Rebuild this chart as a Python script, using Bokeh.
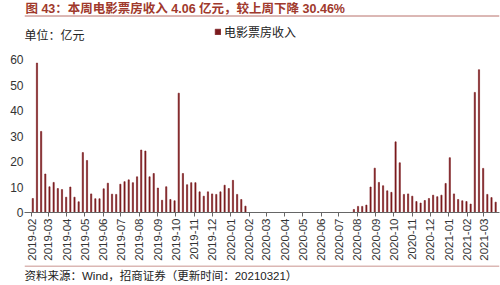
import math
import numpy as np
import pandas as pd
from bokeh.plotting import figure
from bokeh.layouts import column
from bokeh.models import (ColumnDataSource, FixedTicker, DatetimeTickFormatter, Label,
                          Span, Legend, LegendItem, Range1d)
from bokeh.embed import file_html
from bokeh.resources import INLINE

# ---------------- data ----------------
title_text = "图 43：本周电影票房收入 4.06 亿元，较上周下降 30.46%"
unit_text = "单位：亿元"
series_name = "电影票房收入"
source_text = "资料来源：Wind，招商证券（更新时间：20210321）"

first_week = "2019-02-03"   # weekly observations (week ending Sunday)
nan = float("nan")
box_office = [
    5.5, 58.6, 31.8, 15.1, 10.1, 11.8, 9.4, 9.0, 6.0, 10.0,
    6.0, 4.2, 23.5, 20.4, 7.3, 5.4, 5.4, 9.3, 11.5, 7.2,
    7.1, 11.1, 12.1, 12.8, 11.7, 14.0, 24.5, 24.1, 14.0, 15.3,
    9.6, 4.8, 10.1, 5.1, 4.6, 46.8, 15.3, 10.9, 11.7, 11.7,
    8.1, 6.4, 8.1, 7.3, 7.1, 8.1, 10.7, 9.4, 12.6, 7.1,
    5.1, 2.5, 0, 0, 0, 0, 0, 0, 0, 0,
    0, 0, 0, 0, 0, 0, 0, 0, 0, 0,
    nan, nan, nan, nan, nan, nan, nan,
    1.2, 2.4, 2.4, 2.9, 10.0, 17.4, 11.8, 10.5, 8.5, 7.9,
    27.7, 19.5, 7.1, 7.3, 6.4, 4.3, 3.7, 4.7, 5.5, 6.8,
    6.2, 6.8, 11.4, 21.5, 7.3, 5.1, 4.6, 4.3, 3.3, 47.1,
    56.0, 17.3, 7.1, 5.84, 4.06,
]
month_ticks = pd.date_range("2019-02-01", "2021-03-01", freq="MS")
y_ticks = [0, 10, 20, 30, 40, 50, 60]

# ---------------- layout ----------------
W = 500
HEAD_H, MAIN_H, FOOT_H = 18, 247, 20          # stacked: 18 + 247 + 20 = 285
FL, FR = 24, 499                               # main frame left/right (canvas px)
F_TOP, F_BOT = 18, 212                         # main frame top/bottom (canvas px)
Y0_PX, Y60_PX = 212, 59                        # where 0 and 60 sit (canvas px)
DAY = 86400000.0
px_per_day = 4.17 / 7.0

weeks = pd.date_range(first_week, periods=len(box_office), freq="7D")
t0 = weeks[0].value / 1e6
x_start = t0 - (32.3 - FL) / px_per_day * DAY
x_end = x_start + (FR - FL) / px_per_day * DAY
y_top = 60 * (Y0_PX - F_TOP) / (Y0_PX - Y60_PX)

BAR = "#7A1A1D"
TXT = "#333333"
CJK = "Liberation Sans, Noto Sans CJK SC"
RULE = "#B8706A"


def blank_fig(h):
    f = figure(width=W, height=h, x_range=Range1d(0, W), y_range=Range1d(0, h),
               output_backend="svg", toolbar_location=None,
               x_axis_location=None, y_axis_location=None,
               min_border_left=0, min_border_right=0, min_border_top=0, min_border_bottom=0)
    f.outline_line_color = None
    f.xgrid.visible = False
    f.ygrid.visible = False
    return f


# ---------------- header ----------------
head = blank_fig(HEAD_H)
head.add_layout(Label(x=1, y=HEAD_H - 8.5, text=title_text, text_font=CJK,
                      text_font_size="12.5px", text_font_style="bold",
                      text_color="#A0392C", text_baseline="middle", text_align="left"))
head.add_layout(Span(location=HEAD_H - 15.5, dimension="width",
                     line_color=RULE, line_width=1))

# ---------------- main chart ----------------
src = ColumnDataSource(dict(x=weeks, top=box_office))

p = figure(width=W, height=MAIN_H, x_axis_type="datetime",
           x_range=Range1d(x_start, x_end), y_range=Range1d(0, y_top),
           output_backend="svg", toolbar_location=None,
           min_border_left=FL, min_border_right=W - FR,
           min_border_top=0, min_border_bottom=MAIN_H - (F_BOT - F_TOP))
p.outline_line_color = None
p.xgrid.visible = False
p.ygrid.visible = False

bars = p.vbar(x="x", top="top", bottom=0, width=2.0 * DAY, source=src,
              fill_color=BAR, line_color=BAR, line_width=0.6)

# y axis
p.yaxis.ticker = FixedTicker(ticks=y_ticks)
p.yaxis.axis_line_color = None
p.yaxis.major_tick_line_color = None
p.yaxis.minor_tick_line_color = None
p.yaxis.major_tick_out = 0
p.yaxis.major_label_standoff = 1
p.yaxis.major_label_text_font = "Liberation Sans"
p.yaxis.major_label_text_font_size = "12px"
p.yaxis.major_label_text_color = TXT

# x axis
fmt = "%Y-%m"
p.xaxis.ticker = FixedTicker(ticks=[t.value / 1e6 for t in month_ticks])
p.xaxis.formatter = DatetimeTickFormatter(
    microseconds=fmt, milliseconds=fmt, seconds=fmt, minsec=fmt, minutes=fmt,
    hourmin=fmt, hours=fmt, days=fmt, months=fmt, years=fmt)
p.xaxis.major_label_orientation = math.pi / 2
p.xaxis.axis_line_color = "#666666"
p.xaxis.axis_line_width = 1
p.xaxis.major_tick_line_color = "#666666"
p.xaxis.major_tick_out = 4
p.xaxis.major_tick_in = 0
p.xaxis.minor_tick_line_color = None
p.xaxis.major_label_standoff = 2
p.xaxis.major_label_text_font = "Liberation Sans"
p.xaxis.major_label_text_font_size = "11.5px"
p.xaxis.major_label_text_color = TXT


def xd(px):
    return x_start + (px - FL) / (FR - FL) * (x_end - x_start)


def yd(py):
    return (Y0_PX - py) / (Y0_PX - Y60_PX) * 60


# unit text (inside the frame's top area)
p.add_layout(Label(x=xd(24), y=yd(34), text=unit_text, text_font="Noto Sans CJK SC",
                   text_font_size="12px", text_color="#222222",
                   text_baseline="middle", text_align="left"))

# legend
legend = Legend(items=[LegendItem(label=series_name, renderers=[bars])],
                location=(214 - FL, Y0_PX - 40), orientation="horizontal",
                glyph_width=7, glyph_height=7, label_standoff=3, label_height=12,
                label_text_font="Noto Sans CJK SC", label_text_font_size="12px",
                label_text_color="#222222", padding=0, spacing=0, margin=0,
                border_line_color=None, background_fill_alpha=0)
p.add_layout(legend, "center")

# ---------------- footer ----------------
foot = blank_fig(FOOT_H)
foot.add_layout(Span(location=FOOT_H - 0.5, dimension="width",
                     line_color=RULE, line_width=1))
foot.add_layout(Label(x=0, y=FOOT_H - 10, text=source_text, text_font=CJK,
                      text_font_size="11.5px", text_color="#222222",
                      text_baseline="middle", text_align="left"))

layout = column(head, p, foot, spacing=0)
open("out.html", "w").write(file_html(layout, INLINE))
